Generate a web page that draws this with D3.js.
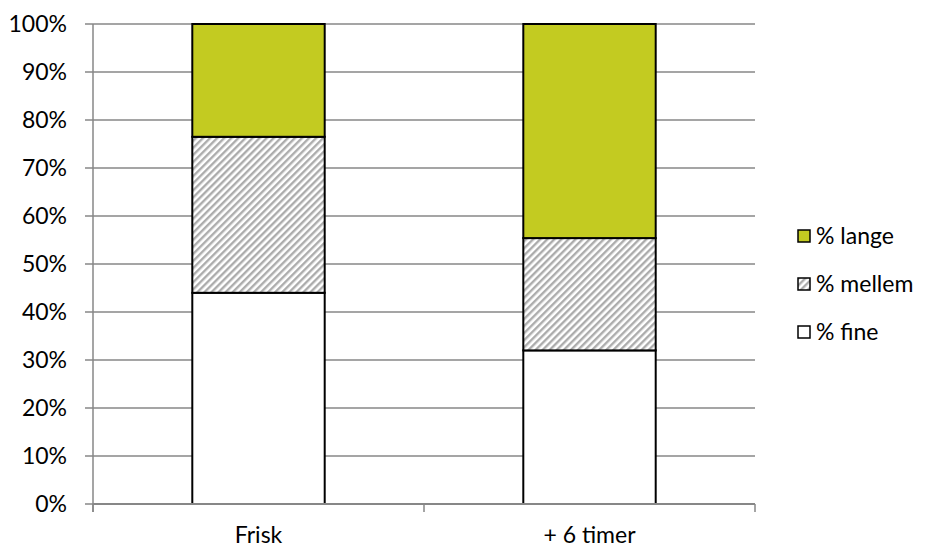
<!DOCTYPE html>
<html>
<head>
<meta charset="utf-8">
<script src="https://cdn.jsdelivr.net/npm/d3@7"></script>
<style>
  html, body { margin: 0; padding: 0; background: #fff; }
  svg text { font-family: Lato, "Open Sans", sans-serif; fill: #000; }
</style>
</head>
<body>
<svg id="chart" width="925" height="548"></svg>
<script>
// Fibre length shares per sample
const categories = ["Frisk", "+ 6 timer"];
const fine   = [0.44, 0.32];
const mellem = [0.325, 0.234];
const lange  = [0.235, 0.446];
const yTicks = [0, 0.1, 0.2, 0.3, 0.4, 0.5, 0.6, 0.7, 0.8, 0.9, 1.0];
const seriesNames = ["% fine", "% mellem", "% lange"];

const svg = d3.select("#chart");
const plotLeft = 93, plotRight = 755, plotTop = 24, plotBottom = 504;
const fontSize = 23;

// diagonal hatch for the middle series
const defs = svg.append("defs");
const pat = defs.append("pattern")
  .attr("id", "hatch")
  .attr("patternUnits", "userSpaceOnUse")
  .attr("width", 5).attr("height", 5)
  .attr("patternTransform", "rotate(45)");
pat.append("rect").attr("width", 5).attr("height", 5).attr("fill", "#ffffff");
pat.append("rect").attr("x", 0).attr("width", 2.4).attr("height", 5).attr("fill", "#acacac");

const x = d3.scaleBand().domain(categories).range([plotLeft, plotRight])
  .paddingInner(0.6).paddingOuter(0.3);
const y = d3.scaleLinear().domain([0, 1]).range([plotBottom, plotTop]);

// gridlines
svg.append("g").selectAll("line").data(yTicks).join("line")
  .attr("x1", plotLeft - 8).attr("x2", plotRight)
  .attr("y1", d => y(d)).attr("y2", d => y(d))
  .attr("stroke", "#878787").attr("stroke-width", 1.5);

// y-axis line
svg.append("line")
  .attr("x1", plotLeft).attr("x2", plotLeft).attr("y1", plotTop).attr("y2", plotBottom + 8)
  .attr("stroke", "#878787").attr("stroke-width", 1.5);

// y labels
svg.append("g").selectAll("text").data(yTicks).join("text")
  .attr("x", 67).attr("y", d => y(d))
  .attr("dy", "0.35em")
  .attr("text-anchor", "end")
  .attr("font-size", fontSize)
  .text(d => d3.format(".0%")(d));

// stacked bars
const rows = categories.map((c, i) => ({ cat: c, fine: fine[i], mellem: mellem[i], lange: lange[i] }));
const stack = d3.stack().keys(["fine", "mellem", "lange"])(rows);
const fills = { fine: "#ffffff", mellem: "url(#hatch)", lange: "#c3cb21" };

stack.forEach(layer => {
  svg.append("g").selectAll("rect").data(layer).join("rect")
    .attr("x", d => x(d.data.cat))
    .attr("width", x.bandwidth())
    .attr("y", d => y(d[1]))
    .attr("height", d => y(d[0]) - y(d[1]))
    .attr("fill", fills[layer.key])
    .attr("stroke", "#000")
    .attr("stroke-width", 2);
});

// x-axis line drawn over the bar bottoms
svg.append("line")
  .attr("x1", plotLeft).attr("x2", plotRight).attr("y1", plotBottom).attr("y2", plotBottom)
  .attr("stroke", "#878787").attr("stroke-width", 2);

// category boundary ticks
const bounds = [plotLeft].concat(categories.map(c => x(c) - x.step() * x.paddingOuter() + x.step()));
svg.append("g").selectAll("line").data(bounds).join("line")
  .attr("x1", d => d).attr("x2", d => d)
  .attr("y1", plotBottom).attr("y2", plotBottom + 8)
  .attr("stroke", "#878787").attr("stroke-width", 1.5);

// category labels
svg.append("g").selectAll("text").data(categories).join("text")
  .attr("x", d => x(d) + x.bandwidth() / 2)
  .attr("y", 543)
  .attr("text-anchor", "middle")
  .attr("font-size", fontSize)
  .text(d => d);

// legend
const legendKeys = ["lange", "mellem", "fine"];
const legendLabels = ["% lange", "% mellem", "% fine"];
const lg = svg.append("g").selectAll("g").data(legendKeys).join("g")
  .attr("transform", (d, i) => `translate(798, ${236 + i * 48})`);
lg.append("rect")
  .attr("x", 0).attr("y", -6).attr("width", 12).attr("height", 12)
  .attr("fill", d => fills[d]).attr("stroke", "#000").attr("stroke-width", 1.5);
lg.append("text")
  .attr("x", 18).attr("y", 0).attr("dy", "0.35em")
  .attr("font-size", fontSize)
  .text((d, i) => legendLabels[i]);
</script>
</body>
</html>
